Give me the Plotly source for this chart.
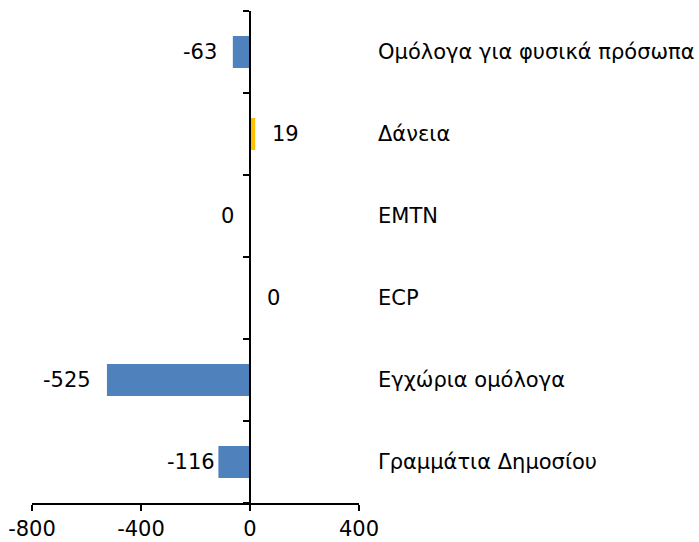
import plotly.graph_objects as go

categories = ["Γραμμάτια Δημοσίου", "Εγχώρια ομόλογα", "ECP", "EMTN", "Δάνεια", "Ομόλογα για φυσικά πρόσωπα"]
values = [-116, -525, 0.3, -0.3, 19, -63]
bar_colors = ["#4F81BD", "#4F81BD", "#4F81BD", "#4F81BD", "#FFC000", "#4F81BD"]
label_gap = [1, 14, 15, 14, 15, 14]
tick_vals = [-800, -400, 0, 400]
tick_text = ["-800", "-400", "0", "400"]

FONT = "DejaVu Sans, Verdana, sans-serif"
FS = 21

fig = go.Figure()
fig.add_trace(go.Bar(
    y=categories, x=values, orientation="h",
    marker=dict(color=bar_colors, line=dict(width=0)),
    hoverinfo="skip", showlegend=False,
))

annotations = []
for c, v, g in zip(categories, values, label_gap):
    annotations.append(dict(
        x=v, y=c, xref="x", yref="y", text=str(int(round(v))) if round(v) != 0 else "0",
        showarrow=False, xanchor="right" if v < 0 else "left",
        xshift=-g if v < 0 else g,
        font=dict(family=FONT, size=FS, color="#000000"),
    ))
    annotations.append(dict(
        x=1.0, y=c, xref="paper", yref="y", text=c, showarrow=False,
        xanchor="left", xshift=17,
        font=dict(family=FONT, size=FS, color="#000000"),
    ))

fig.update_layout(
    width=699, height=542,
    margin=dict(l=32, r=340, t=11, b=39, autoexpand=False),
    paper_bgcolor="white", plot_bgcolor="white",
    bargap=0.61,
    annotations=annotations,
    xaxis=dict(
        range=[-800, 400], tickvals=tick_vals, ticktext=tick_text,
        automargin=False, fixedrange=True,
        showgrid=False, zeroline=False, showline=True, linecolor="black", linewidth=2,
        ticks="outside", ticklen=6, tickwidth=2, tickcolor="black",
        tickfont=dict(family=FONT, size=FS, color="#000000"),
    ),
    yaxis=dict(
        type="category", categoryarray=categories, categoryorder="array",
        range=[-0.5, 5.5], automargin=False, fixedrange=True,
        anchor="free", position=800 / 1200,
        showgrid=False, zeroline=False, showline=True, linecolor="black", linewidth=2,
        ticks="outside", tickson="boundaries", ticklen=6, tickwidth=2, tickcolor="black",
        showticklabels=False,
    ),
)

fig.write_html(
    "out.html",
    config={"displayModeBar": False},
    post_script="document.body.style.margin='0';document.body.style.overflow='hidden';",
)
